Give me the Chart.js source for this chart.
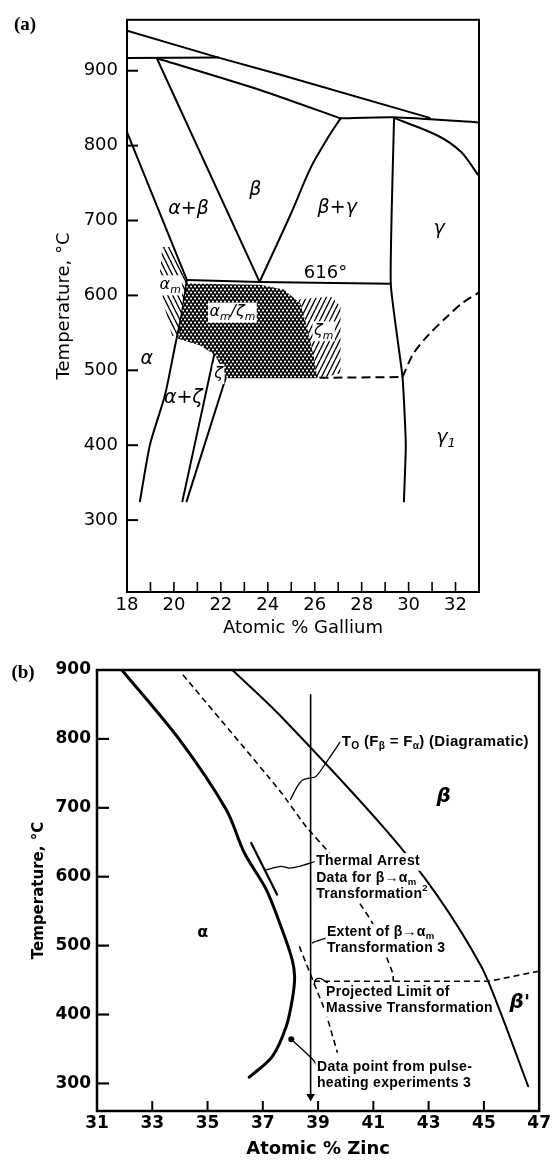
<!DOCTYPE html>
<html><head><meta charset="utf-8">
<script src="https://cdn.jsdelivr.net/npm/chart.js@4.4.1/dist/chart.umd.min.js"></script>
<style>
html,body{margin:0;padding:0;background:#fff;}
body{width:553px;height:1160px;position:relative;overflow:hidden;}
#ca{position:absolute;left:0;top:0;}
#cb{position:absolute;left:0;top:645px;}
</style></head><body>
<canvas id="ca" width="553" height="645" style="width:553px;height:645px"></canvas>
<canvas id="cb" width="553" height="515" style="width:553px;height:515px"></canvas>
<script>
// ---------------- Chart (a): atomic % Ga vs temperature ----------------
const A_X_TICKS = [18,19,20,21,22,23,24,25,26,27,28,29,30,31,32,33];
const A_X_LABELS = [18,20,22,24,26,28,30,32];
const A_Y_TICKS = [300,400,500,600,700,800,900];

const aLiquidus      = [[18,953.5],[21.9,917.5],[24.54,894.7],[30.9,837]];
const aPeritectic917 = [[18,917],[21.9,917.5]];
const aBetaLiquidus  = [[19.27,916.7],[23.7,874],[27.1,836.4]];
const aBetaLeft      = [[19.27,916.7],[23.65,618]];
const aAlphaUpper    = [[18,818],[20.55,620.6]];
const aAlphaSolvus   = [[20.55,620.6],[20.34,576.7],[20.05,532.8],[19.62,467],[18.98,401],[18.55,325]];
const aEutectoid616  = [[20.55,620.6],[23.65,618],[29.24,615.5]];
const aBetaGamma     = [[23.65,618],[24.97,708],[25.82,770],[26.53,809],[27.1,836.4]];
const aTopGamma      = [[27.1,836.4],[29.38,837.8],[33,831]];
const aGammaArc      = [[29.38,837],[31.23,813.5],[32.23,791.7],[32.96,761]];
const aGammaLeft     = [[29.38,837],[29.24,615.5],[29.74,491],[29.88,401],[29.8,325]];
const aZetaLeft      = [[22.07,572],[20.36,325]];
const aZetaRight     = [[22.3,572],[22.2,489],[20.54,325]];
const aDashFlat      = [[26.2,490],[29.74,491]];
const aDashCurve     = [[29.74,491],[30.2,522],[30.81,546],[31.66,572.3],[32.3,590],[33,604]];
const aDotRegion     = [[20.56,616],[20.39,585.5],[20.18,542],[21.12,533],[21.76,520],[22.19,493],[22.32,489.4],[26.12,489.4],[25.95,519.7],[25.69,555],[25.39,589.4],[24.67,607.8],[23.68,614.4],[20.56,616]];
const aHatchAlphaM   = [[19.5,664.5],[19.84,664.5],[20.6,618.4],[20.26,546],[19.92,546],[19.54,592],[19.41,631.5],[19.5,664.5]];
const aHatchZetaM    = [[25.26,594.7],[26.68,598.6],[27.1,585.5],[27.1,496],[26.25,489.4],[26.12,489.4],[25.95,519.7],[25.69,555],[25.39,589.4],[25.26,594.7]];

const aText = [
  {s:'α+β', x:20.62, y:714.8},
  {s:'β', x:23.47, y:741},
  {s:'β+γ', x:26.96, y:717},
  {s:'γ', x:31.3, y:688.5},
  {s:'α_m', x:19.84, y:614, bg:1, sm:1},
  {s:'α_m/ζ_m', x:22.49, y:577.6, bg:1, sm:1},
  {s:'ζ_m', x:26.38, y:552.6, bg:1, sm:1},
  {s:'α', x:18.84, y:515},
  {s:'α+ζ', x:20.4, y:462.7},
  {s:'ζ', x:21.9, y:495.6, bg:1, sm:1},
  {s:'γ_1', x:31.59, y:410},
  {s:'616°', x:26.46, y:629, up:1}
];

// ---------------- Chart (b): atomic % Zn vs temperature ----------------
const B_X_TICKS = [31,33,35,37,39,41,43,45,47];
const B_Y_TICKS = [300,400,500,600,700,800,900];

const bAlphaBoundary = [[31.9,900],[33.99,798.6],[35.68,697.1],[36.33,634.8],[37.13,581],[37.7,523],[38.06,480],[38.15,455],[38.08,425],[37.85,383],[37.34,339],[36.51,309]];
const bThermalArrest = [[36.58,649],[37.52,574]];
const bT0            = [[34.11,893],[37.59,726],[38.56,673],[39.4,634],[40.5,562],[40.96,533],[41.7,460],[41.72,448]];
const bExtent        = [[38.32,499],[38.8,450.8],[39.28,402.6],[39.7,344.6]];
const bBetaBoundary  = [[35.9,900],[37.6,835],[41.45,668],[43.29,574],[44.9,470],[45.6,403],[46.6,296]];
const bLimit450      = [[38.85,448.4],[45.2,448.4],[47,463]];
const bArrow         = [[38.73,864],[38.73,281]];
const bDataPoint     = [[38.03,364]];
const bLeaderT0      = [[39.81,796],[39.28,765],[38.92,745.4],[38.68,743],[38.43,740],[38.25,731],[38.0,712]];
const bLeaderArrest  = [[38.88,622],[38.32,615],[37.95,612.6],[37.66,615],[37.12,610]];
const bLeaderExtent  = [[39.28,511],[38.91,506],[38.8,504]];
const bLeaderLimit   = [[39.34,446],[39.1,452],[38.92,451],[38.86,443.7]];
const bLeaderPoint   = [[38.03,364],[38.8,335],[38.97,325]];

const bText = [
  {s:'T_O (F_β = F_α) (Diagramatic)', x:39.86, y:795.7, big:1},
  {s:'Thermal Arrest', x:38.93, y:622},
  {s:'Data for β→α_m', x:38.93, y:598.6},
  {s:'Transformation^2', x:38.93, y:575.4},
  {s:'Extent of β→α_m', x:39.32, y:519},
  {s:'Transformation 3', x:39.32, y:497},
  {s:'Projected Limit of', x:39.29, y:433},
  {s:'Massive Transformation', x:39.29, y:410},
  {s:'Data point from pulse-', x:38.96, y:323},
  {s:'heating experiments 3', x:38.96, y:301}
];
const bGreek = [
  {s:'β', x:43.54, y:716},
  {s:"β'", x:46.3, y:417},
  {s:'α', x:34.83, y:518.5, small:1}
];

// ---------------- helpers ----------------
const toXY = pts => pts.map(p => ({x:p[0], y:p[1]}));
function line(pts, o) {
  return Object.assign({data:toXY(pts), showLine:true, pointRadius:0, borderColor:'#000',
    borderWidth:2, fill:false, tension:0, borderCapStyle:'round', borderJoinStyle:'round'}, o||{});
}
function poly(pts, pattern) {
  return {data:toXY(pts), showLine:true, pointRadius:0, borderColor:'rgba(0,0,0,0)',
    borderWidth:1, fill:'shape', backgroundColor:pattern, tension:0};
}
function hatch(ctx, dir) {
  const w=5, h=10, c=document.createElement('canvas'); c.width=w; c.height=h;
  const g=c.getContext('2d'); g.strokeStyle='#000'; g.lineWidth=1.3;
  for (let i=-1;i<=1;i++){ g.beginPath();
    if (dir==='\\'){ g.moveTo(i*w,0); g.lineTo(i*w+w,h);} else { g.moveTo(i*w+w,0); g.lineTo(i*w,h);} g.stroke(); }
  return ctx.createPattern(c,'repeat');
}
function dots(ctx) {
  const w=4, h=6, c=document.createElement('canvas'); c.width=w; c.height=h;
  const g=c.getContext('2d'); g.fillStyle='#0a0a0a'; g.fillRect(0,0,w,h); g.fillStyle='#fff';
  [[1,1.5],[3,4.5]].forEach(p=>{g.beginPath(); g.arc(p[0],p[1],1.05,0,Math.PI*2); g.fill();});
  return ctx.createPattern(c,'repeat');
}
function parseRich(s){ const out=[]; let buf='', i=0;
  while(i<s.length){ const c=s[i];
    if ((c==='_'||c==='^') && i+1<s.length){ if(buf){out.push({t:buf,k:0});buf='';} out.push({t:s[i+1],k:c==='_'?1:-1}); i+=2; }
    else { buf+=c; i++; } }
  if(buf) out.push({t:buf,k:0}); return out; }
function fstr(f,size){ return (f.style||'normal')+' '+(f.weight||'normal')+' '+size+'px "'+f.family+'"'; }
function drawRich(ctx, s, x, y, f, align, bg){
  const segs=parseRich(s); let w=0;
  ctx.save();
  ctx.letterSpacing = f.ls || '0px';
  segs.forEach(sg=>{ sg.sz = sg.k ? f.size*0.68 : f.size; ctx.font=fstr(f,sg.sz); sg.w=ctx.measureText(sg.t).width; w+=sg.w; });
  let x0 = align==='center' ? x-w/2 : (align==='right' ? x-w : x);
  if (bg){ ctx.fillStyle='#fff'; ctx.fillRect(x0-bg, y-f.size*0.6, w+2*bg, f.size*1.25); }
  ctx.fillStyle='#000'; ctx.textBaseline='middle'; ctx.textAlign='left';
  segs.forEach(sg=>{ ctx.font=fstr(f,sg.sz); const dy = sg.k===1 ? f.size*0.3 : (sg.k===-1 ? -f.size*0.35 : 0);
    ctx.fillText(sg.t, x0, y+dy); x0+=sg.w; });
  ctx.restore();
}
function frameAndTicks(chart, c){
  const {ctx, chartArea:{left,right,top,bottom}} = chart;
  const xs=chart.scales.x, ys=chart.scales.y;
  ctx.save(); ctx.strokeStyle='#000'; ctx.lineCap='butt';
  ctx.lineWidth=c.yTickW;
  ys.ticks.forEach(t=>{ const p=ys.getPixelForValue(t.value); if (p<top+1||p>bottom-1) return;
    ctx.beginPath(); ctx.moveTo(left,p); ctx.lineTo(left+c.yTickLen,p); ctx.stroke(); });
  ctx.lineWidth=c.xTickW;
  xs.ticks.forEach(t=>{ const p=xs.getPixelForValue(t.value); if (p<left+1||p>right-1) return;
    ctx.beginPath(); ctx.moveTo(p,bottom); ctx.lineTo(p,bottom-c.xTickLen); ctx.stroke(); });
  ctx.lineWidth=c.frameW; ctx.strokeRect(left,top,right-left,bottom-top);
  ctx.restore();
}
const fixedTicks = arr => (s => { s.ticks = arr.map(v => ({value:v})); });

// ---------------- Chart (a) ----------------
const ctxA = document.getElementById('ca').getContext('2d');
const A_FONT = 'DejaVu Sans';
new Chart(ctxA, {
  type:'scatter',
  data:{datasets:[
    poly(aHatchAlphaM, hatch(ctxA,'\\')),
    poly(aHatchZetaM, hatch(ctxA,'/')),
    poly(aDotRegion, dots(ctxA)),
    line(aLiquidus),
    line(aPeritectic917),
    line(aBetaLiquidus,{tension:0.2}),
    line(aBetaLeft),
    line(aAlphaUpper),
    line(aAlphaSolvus,{tension:0.2}),
    line(aEutectoid616),
    line(aBetaGamma,{tension:0.3}),
    line(aTopGamma,{tension:0.2}),
    line(aGammaArc,{tension:0.3}),
    line(aGammaLeft,{tension:0.15}),
    line(aZetaLeft), line(aZetaRight),
    line(aDashFlat,{borderDash:[9,5], borderCapStyle:'butt'}),
    line(aDashCurve,{borderDash:[9,5], tension:0.3, borderCapStyle:'butt'})
  ]},
  options:{
    responsive:false, animation:false, events:[],
    layout:{padding:{left:0,top:9,right:74,bottom:0}, autoPadding:false},
    plugins:{legend:{display:false}, tooltip:{enabled:false}},
    scales:{
      x:{type:'linear', min:18, max:33, afterBuildTicks:fixedTicks(A_X_TICKS), afterFit:s=>{s.height=53;},
        grid:{display:false, drawTicks:false}, border:{display:false},
        ticks:{autoSkip:false, maxRotation:0, padding:3, color:'#000', font:{family:A_FONT,size:18},
          callback:v=>A_X_LABELS.includes(v)?String(v):''},
        title:{display:true, text:'Atomic % Gallium', color:'#000', font:{family:A_FONT,size:18}, padding:{top:0,bottom:6}}},
      y:{type:'linear', min:204, max:968, afterBuildTicks:fixedTicks(A_Y_TICKS), afterFit:s=>{s.width=127;},
        grid:{display:false, drawTicks:false}, border:{display:false},
        ticks:{autoSkip:false, padding:9, color:'#000', font:{family:A_FONT,size:18}},
        title:{display:true, text:'Temperature, °C', color:'#000', font:{family:A_FONT,size:18}, padding:{top:54,bottom:0}}}
    }
  },
  plugins:[{id:'decorA', afterDraw(chart){
    frameAndTicks(chart,{yTickLen:11,yTickW:2,xTickLen:10,xTickW:1.6,frameW:2});
    const ctx=chart.ctx, xs=chart.scales.x, ys=chart.scales.y;
    aText.forEach(t=>{
      const f = t.up ? {family:A_FONT,size:18} : {family:A_FONT,style:'italic',size:t.sm?16:19};
      drawRich(ctx, t.s, xs.getPixelForValue(t.x), ys.getPixelForValue(t.y), f, 'center', t.bg?1.5:0);
    });
    drawRich(ctx,'(a)',25,25,{family:'Liberation Serif',weight:'bold',size:19},'center',0);
  }}]
});

// ---------------- Chart (b) ----------------
const ctxB = document.getElementById('cb').getContext('2d');
const B_FONT = 'DejaVu Sans';
new Chart(ctxB, {
  type:'scatter',
  data:{datasets:[
    line(bAlphaBoundary,{borderWidth:3, tension:0.3}),
    line(bThermalArrest,{borderWidth:2.2}),
    line(bT0,{borderWidth:1.6, borderDash:[6,4], tension:0.2, borderCapStyle:'butt'}),
    line(bExtent,{borderWidth:1.6, borderDash:[6,4], borderCapStyle:'butt'}),
    line(bBetaBoundary,{borderWidth:2, tension:0.3}),
    line(bLimit450,{borderWidth:1.6, borderDash:[6,4], borderCapStyle:'butt'}),
    line(bArrow,{borderWidth:1.6, pointRadius:[0,5], pointStyle:'triangle', rotation:180, pointBackgroundColor:'#000', pointBorderWidth:0}),
    line(bDataPoint,{showLine:false, pointRadius:3, pointBackgroundColor:'#000', pointBorderWidth:0}),
    line(bLeaderT0,{borderWidth:1.3, tension:0.3}),
    line(bLeaderArrest,{borderWidth:1.3, tension:0.3}),
    line(bLeaderExtent,{borderWidth:1.3, tension:0.3}),
    line(bLeaderLimit,{borderWidth:1.3, tension:0.3}),
    line(bLeaderPoint,{borderWidth:1.3, tension:0.3})
  ]},
  options:{
    responsive:false, animation:false, events:[],
    layout:{padding:{left:0,top:25,right:12,bottom:0}, autoPadding:false},
    plugins:{legend:{display:false}, tooltip:{enabled:false}},
    scales:{
      x:{type:'linear', min:31, max:47, afterBuildTicks:fixedTicks(B_X_TICKS), afterFit:s=>{s.height=49;},
        grid:{display:false, drawTicks:false}, border:{display:false},
        ticks:{autoSkip:false, maxRotation:0, padding:2, color:'#000', font:{family:B_FONT,size:17,weight:'bold'}},
        title:{display:true, text:'Atomic % Zinc', color:'#000', font:{family:B_FONT,size:18,weight:'bold'}, padding:{top:0,bottom:0}}},
      y:{type:'linear', min:260, max:900, afterBuildTicks:fixedTicks(B_Y_TICKS), afterFit:s=>{s.width=97;},
        grid:{display:false, drawTicks:false}, border:{display:false},
        ticks:{autoSkip:false, padding:6, color:'#000', font:{family:B_FONT,size:17,weight:'bold'}},
        title:{display:true, text:'Temperature, °C', color:'#000', font:{family:B_FONT,size:15,weight:'bold'}, padding:{top:30,bottom:0}}}
    }
  },
  plugins:[{id:'decorB', afterDraw(chart){
    frameAndTicks(chart,{yTickLen:12,yTickW:2.2,xTickLen:10,xTickW:2,frameW:2.5});
    const ctx=chart.ctx, xs=chart.scales.x, ys=chart.scales.y;
    bText.forEach(t=>{
      const f={family:'Liberation Sans',weight:'bold',size:t.big?15:14,ls:'0.3px'};
      drawRich(ctx,t.s,xs.getPixelForValue(t.x),ys.getPixelForValue(t.y),f,'left',1.5);
    });
    bGreek.forEach(t=>drawRich(ctx,t.s,xs.getPixelForValue(t.x),ys.getPixelForValue(t.y),
      t.small?{family:'DejaVu Sans',weight:'bold',size:16}:{family:'DejaVu Sans',weight:'bold',style:'italic',size:20},'center',0));
    drawRich(ctx,'(b)',23,28,{family:'Liberation Serif',weight:'bold',size:19},'center',0);
  }}]
});
</script></body></html>
